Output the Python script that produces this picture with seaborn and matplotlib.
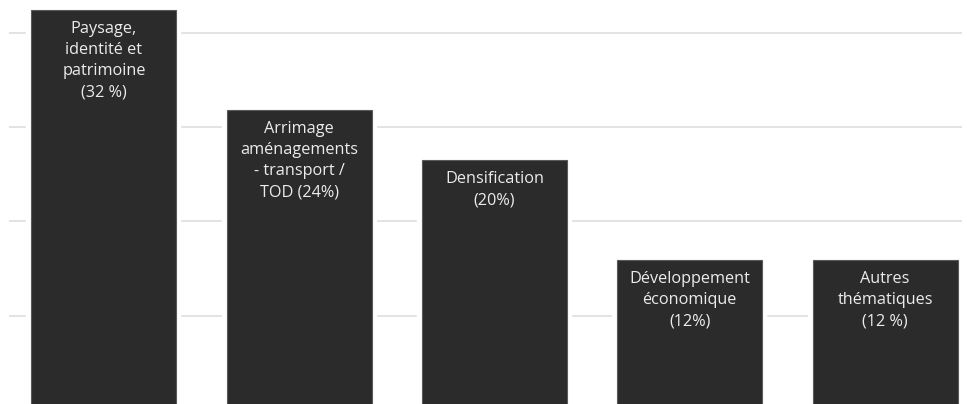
import matplotlib
matplotlib.use("Agg")
import matplotlib.pyplot as plt
import seaborn as sns
import pandas as pd

categories = ["Paysage", "Arrimage", "Densification", "Développement", "Autres"]
values = [32, 24, 20, 12, 12]
labels = [
    "Paysage,\nidentité et\npatrimoine\n(32 %)",
    "Arrimage\naménagements\n- transport /\nTOD (24%)",
    "Densification\n(20%)",
    "Développement\néconomique\n(12%)",
    "Autres\nthématiques\n(12 %)",
]
grid_levels = [7.55, 15.1, 22.65, 30.2]

df = pd.DataFrame({"cat": categories, "val": values})

sns.set_theme(style="white")
plt.rcParams["font.family"] = ["Open Sans", "DejaVu Sans"]

fig = plt.figure(figsize=(9.67, 4.04), dpi=100)
ax = fig.add_axes([9 / 967, 0, 953 / 967, 1])

for g in grid_levels:
    ax.axhline(g, color="#e3e3e3", lw=1.4, zorder=0)

# white halo behind bars to cut the gridlines
sns.barplot(data=df, x="cat", y="val", color="white", saturation=1, width=0.742,
            edgecolor="white", linewidth=7.5, ax=ax, zorder=1)
sns.barplot(data=df, x="cat", y="val", color="#2b2b2b", saturation=1, width=0.742,
            edgecolor="#5a5a5a", linewidth=0.8, ax=ax, zorder=2)

for i, (v, lab) in enumerate(zip(values, labels)):
    ax.annotate(lab, xy=(i, v), xytext=(0, -8), textcoords="offset points",
                ha="center", va="top", color="#ececec", fontsize=11.7,
                linespacing=1.43, zorder=3)

ax.set_xlim(-0.486, 4.394)
ax.set_ylim(0.48, 0.48 + 404 / 12.5)
ax.set_xlabel("")
ax.set_ylabel("")
ax.set_xticks([])
ax.set_yticks([])
for s in ax.spines.values():
    s.set_visible(False)

fig.savefig("out.png", dpi=100)
